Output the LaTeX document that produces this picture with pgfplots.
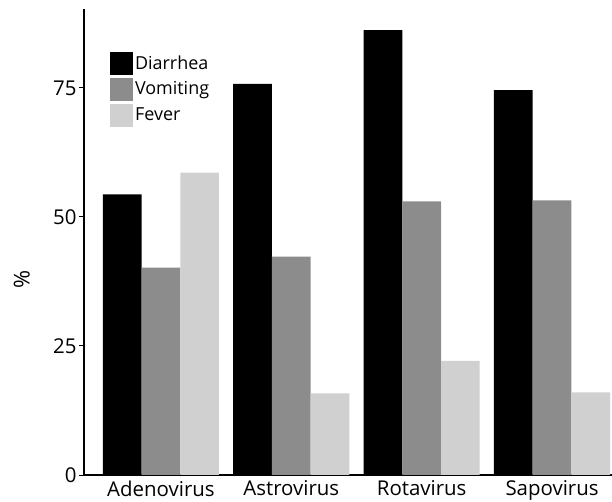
\documentclass[border=0pt]{standalone}
\usepackage{pgfplots}
\pgfplotsset{compat=1.18}
\usepackage{fontspec}
\setmainfont{Open Sans}
\definecolor{vomit}{HTML}{8C8C8C}
\definecolor{fever}{HTML}{D0D0D0}
\begin{document}
\begin{tikzpicture}
\begin{axis}[
  scale only axis,
  width=528bp, height=466bp,
  xmin=-0.59, xmax=3.46,
  ymin=0, ymax=90.3,
  ybar=0pt,
  bar width=38.7bp,
  axis x line*=bottom,
  axis y line*=left,
  axis line style={line width=1.3bp, black},
  xtick={0,1,2,3},
  xticklabels={Adenovirus,Astrovirus,Rotavirus,Sapovirus},
  xtick style={draw=none},
  ytick={0,25,50,75},
  tick align=outside,
  major tick length=5bp,
  ytick style={line width=1bp, black},
  /pgf/number format/assume math mode=true,
  tick label style={font=\fontsize{20.5}{24}\selectfont, black},
  xticklabel style={yshift=3bp},
  yticklabel style={xshift=1bp},
  ylabel={\%},
  every axis y label/.style={at={(axis description cs:-0.118,0.42)}, rotate=90, anchor=center, font=\fontsize{22}{24}\selectfont},
  legend style={draw=none, fill=none, at={(axis description cs:0.049,0.909)}, anchor=north west,
    font=\fontsize{18}{19}\selectfont, row sep=3bp, inner sep=0pt,
    /tikz/every even column/.append style={column sep=0bp}},
  legend cell align=left,
  legend image code/.code={\fill[#1] (0bp,-11.5bp) rectangle (23bp,11.5bp);},
]
\addplot[fill=black, draw=none] coordinates {(0,54.4) (1,75.8) (2,86.2) (3,74.6)};
\addplot[fill=vomit, draw=none] coordinates {(0,40.2) (1,42.3) (2,53.0) (3,53.2)};
\addplot[fill=fever, draw=none] coordinates {(0,58.6) (1,15.8) (2,22.1) (3,16.0)};
\legend{Diarrhea, Vomiting, Fever}
\end{axis}
\pgfresetboundingbox
\path[use as bounding box] (-84bp,-27bp) rectangle (528bp,475bp);
\end{tikzpicture}
\end{document}
